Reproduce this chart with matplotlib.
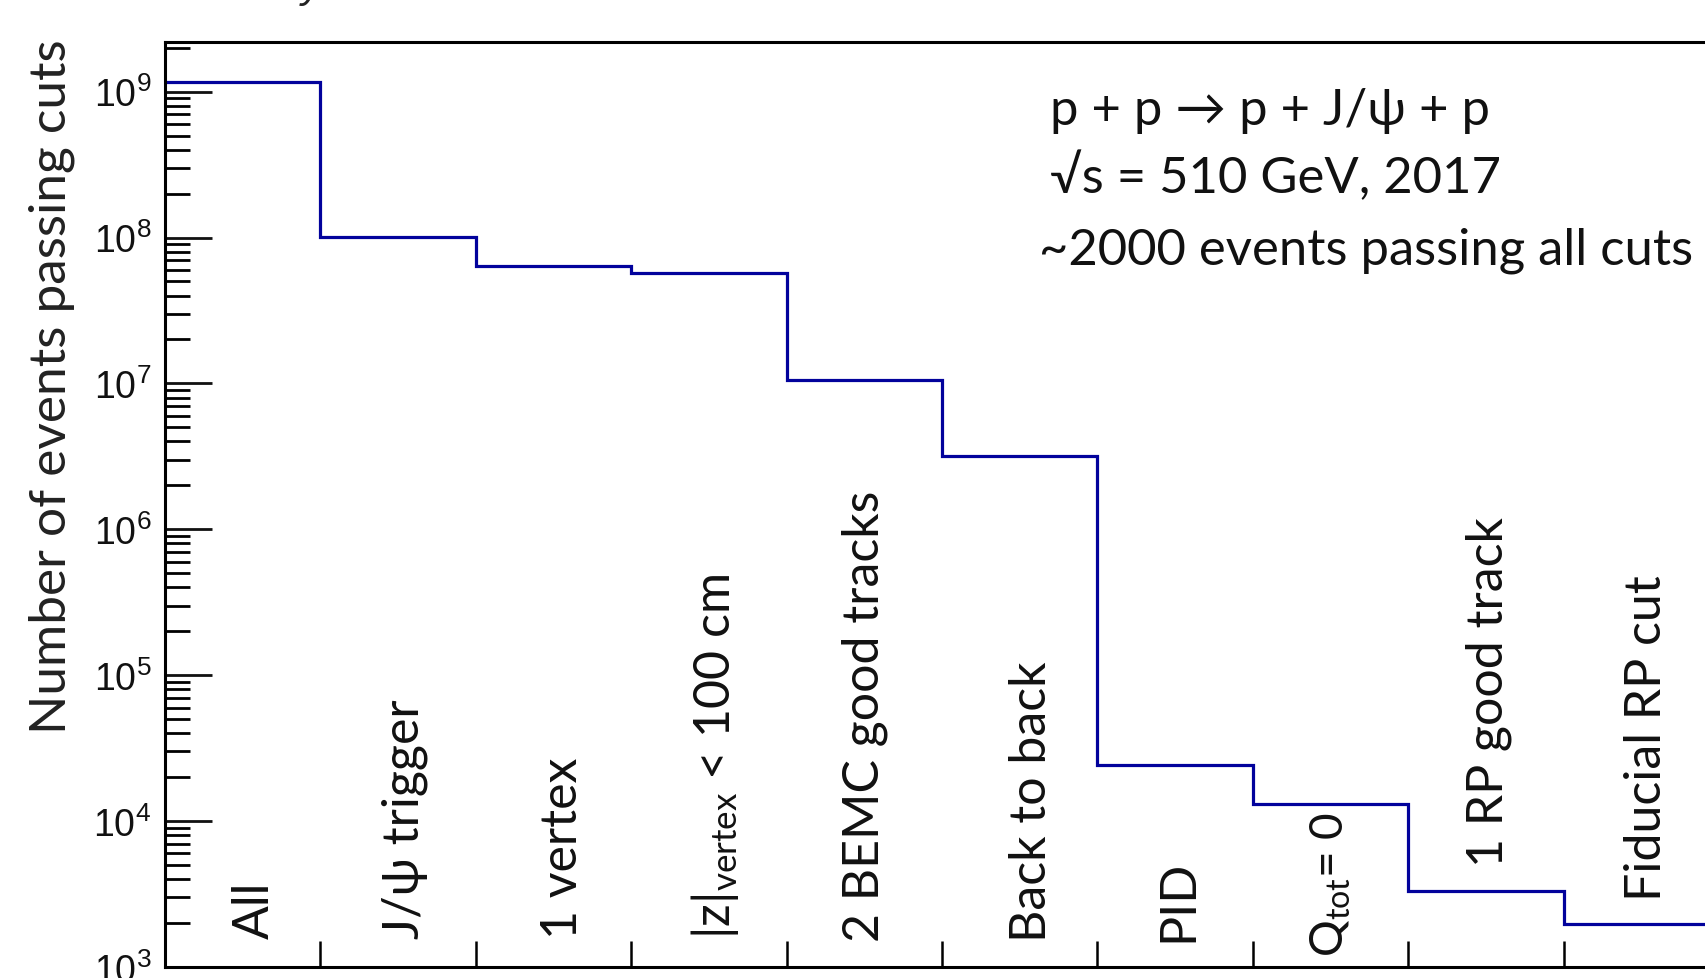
import numpy as np
import matplotlib
matplotlib.use("Agg")
from matplotlib import pyplot as plt
from matplotlib.ticker import LogLocator, FixedLocator, NullFormatter

plt.rcParams['font.family'] = ['Liberation Sans', 'DejaVu Sans']

# cut flow
cuts = ['All', 'J/ψ trigger', '1 vertex', r'$\mathdefault{|z|_{vertex}}$ < 100 cm',
        '2 BEMC good tracks', 'Back to back', 'PID', r'$\mathdefault{Q_{tot}}$= 0',
        '1 RP good track', 'Fiducial RP cut']
n_events = [1.17e9, 1.01e8, 6.4e7, 5.7e7, 1.06e7, 3.2e6, 2.44e4, 1.30e4, 3.3e3, 1.96e3]

# where each rotated label starts (axes fraction from the bottom), a small sideways nudge, size
label_y = [0.031, 0.031, 0.031, 0.031, 0.028, 0.028, 0.028, 0.012, 0.109, 0.072]
label_dx = [0.08, 0.04, 0.06, 0.04, 0.0, 0.08, 0.02, 0.0, 0.02, 0.035]
label_size = [36, 36, 36, 36, 36, 36, 36, 33, 36, 36]

W, H = 1706, 979
fig = plt.figure(figsize=(W / 100, H / 100), dpi=100)
# right edge of the frame runs off the picture, like the original crop
ax = fig.add_axes([165 / W, 11 / H, 1554 / W, 925 / H])

edges = np.arange(len(n_events) + 1)
ax.stairs(n_events, edges, baseline=None, color='#02029c', linewidth=2.3)

ax.set_yscale('log')
ax.set_ylim(1e3, 10 ** 9.34)
ax.set_xlim(0, len(n_events))

ax.yaxis.set_major_locator(LogLocator(base=10, numticks=20))
ax.yaxis.set_minor_locator(LogLocator(base=10, subs=np.arange(2, 10), numticks=20))
ax.yaxis.set_minor_formatter(NullFormatter())
ax.xaxis.set_major_locator(FixedLocator(edges[1:-1]))
ax.set_xticklabels([])

ax.tick_params(axis='y', which='major', direction='in', length=34, width=2.0,
               labelsize=27, pad=10, colors='#111111')
ax.tick_params(axis='y', which='minor', direction='in', length=18, width=2.0)
ax.tick_params(axis='x', which='major', direction='in', length=19, width=1.8)
for s in ax.spines.values():
    s.set_linewidth(2.2)

for i, (txt, yy, dx, fs) in enumerate(zip(cuts, label_y, label_dx, label_size)):
    ax.text(i + 0.5 + dx, yy, txt, transform=ax.get_xaxis_transform(), rotation=90,
            ha='center', va='bottom', fontsize=fs, color='#111111',
            family=['Lato', 'DejaVu Sans'])

fig.text(52 / W, 1 - 387 / H, 'Number of events passing cuts', rotation=90,
         ha='center', va='center', fontsize=37, color='#222222',
         family=['Lato', 'DejaVu Sans'])

notes = ['p + p → p + J/ψ + p', '√s = 510 GeV, 2017', '~2000 events passing all cuts']
note_x = [1050, 1050, 1039]
note_y = [111, 177, 251]
for txt, xx, yy in zip(notes, note_x, note_y):
    fig.text(xx / W, 1 - yy / H, txt, ha='left', va='center', fontsize=36.5,
             color='#111111', family=['Lato', 'DejaVu Sans'])

# tail of a title cut off at the top edge
fig.text(323 / W, 1 + 3 / H, 'STAR Preliminary', ha='right', va='baseline',
         fontsize=30, style='italic', color='#222222')

fig.savefig('out.png', dpi=100)
